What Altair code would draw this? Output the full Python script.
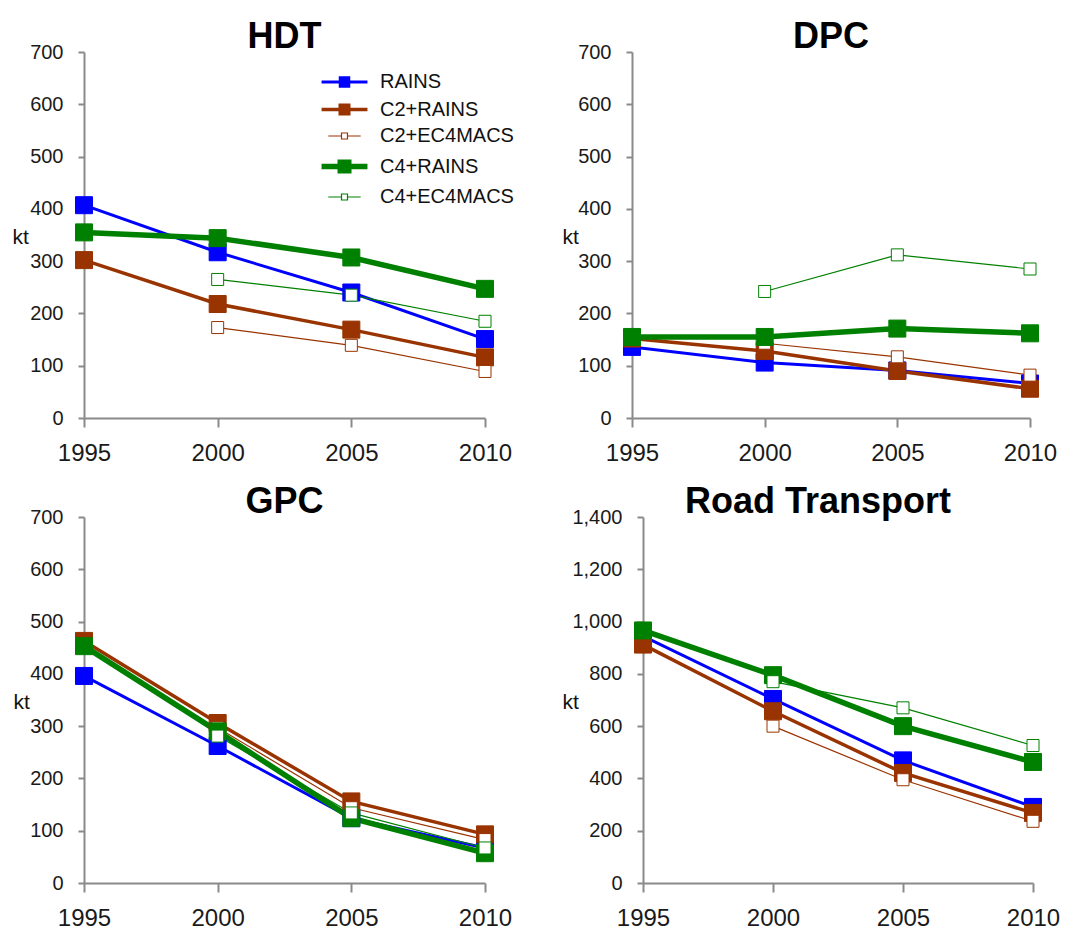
import altair as alt
import pandas as pd

years = [1995, 2000, 2005, 2010]
series = ["RAINS", "C2+RAINS", "C2+EC4MACS", "C4+RAINS", "C4+EC4MACS"]

# HDT
hdt_rains = [407, 317, 240, 151]
hdt_c2_rains = [302, 218, 169, 116]
hdt_c2_ec4 = [None, 173, 139, 89]
hdt_c4_rains = [355, 344, 307, 247]
hdt_c4_ec4 = [None, 265, 235, 185]

# DPC
dpc_rains = [136, 106, 91, 66]
dpc_c2_rains = [152, 128, 90, 56]
dpc_c2_ec4 = [None, 143, 117, 82]
dpc_c4_rains = [155, 155, 171, 162]
dpc_c4_ec4 = [None, 242, 312, 285]

# GPC
gpc_rains = [396, 262, 124, 67]
gpc_c2_rains = [463, 306, 156, 93]
gpc_c2_ec4 = [None, 297, 144, 83]
gpc_c4_rains = [453, 290, 124, 57]
gpc_c4_ec4 = [None, 281, 134, 67]

# Road Transport
road_rains = [944, 704, 469, 291]
road_c2_rains = [912, 657, 421, 268]
road_c2_ec4 = [None, 600, 395, 236]
road_c4_rains = [966, 795, 600, 463]
road_c4_ec4 = [None, 770, 670, 526]

panel_data = {
    "HDT": [hdt_rains, hdt_c2_rains, hdt_c2_ec4, hdt_c4_rains, hdt_c4_ec4],
    "DPC": [dpc_rains, dpc_c2_rains, dpc_c2_ec4, dpc_c4_rains, dpc_c4_ec4],
    "GPC": [gpc_rains, gpc_c2_rains, gpc_c2_ec4, gpc_c4_rains, gpc_c4_ec4],
    "Road Transport": [road_rains, road_c2_rains, road_c2_ec4, road_c4_rains, road_c4_ec4],
}

rows = []
for pname, lists in panel_data.items():
    for s, vals in zip(series, lists):
        for yr, v in zip(years, vals):
            if v is not None:
                rows.append({"panel": pname, "series": s, "year": yr, "value": v})
df = pd.DataFrame(rows)

line_colors = ["#0000FF", "#993300", "#993300", "#008000", "#008000"]
fill_colors = ["#0000FF", "#993300", "#FFFFFF", "#008000", "#FFFFFF"]
line_widths = [3, 3.5, 1.2, 5.5, 1.2]
marker_sizes = [289, 289, 144, 289, 144]

FONT = "Liberation Sans"
legend_path = "M-2.7,0H-0.5M0.5,0H2.7M-0.5,-0.5H0.5V0.5H-0.5Z"
leg = alt.Legend(
    title=None, orient="none", legendX=249, legendY=20,
    symbolType=legend_path, symbolSize=676, labelFontSize=20,
    labelFont=FONT, labelColor="#111111", labelOffset=24, rowPadding=5,
    padding=0, labelLimit=400,
)

color_enc = alt.Color("series:O", sort=series,
                      scale=alt.Scale(type="ordinal", domain=series, range=line_colors), legend=leg)
fill_enc = alt.Fill("series:O", sort=series,
                    scale=alt.Scale(type="ordinal", domain=series, range=fill_colors), legend=leg)
sw_enc = alt.StrokeWidth("series:O", sort=series,
                         scale=alt.Scale(type="ordinal", domain=series, range=line_widths), legend=leg)
size_enc = alt.Size("series:O", sort=series,
                    scale=alt.Scale(type="ordinal", domain=series, range=marker_sizes), legend=None)


def panel(name, ymax, ystep, width, title_dx, kt_x, yfmt):
    base = alt.Chart(df).transform_filter(alt.datum.panel == name)
    x = alt.X("year:Q", scale=alt.Scale(domain=[1995, 2010], nice=False, zero=False),
              axis=alt.Axis(values=years, format="d", title=None, grid=False,
                            tickSize=9, labelPadding=14, labelFontSize=24,
                            labelColor="#1a1a1a", labelFlush=False))
    y = alt.Y("value:Q", scale=alt.Scale(domain=[0, ymax], nice=False),
              axis=alt.Axis(values=list(range(0, ymax + 1, ystep)), format=yfmt,
                            title="kt", titleAngle=0, titleX=kt_x, titleY=191,
                            titleAlign="left", titleBaseline="alphabetic",
                            titleFontSize=21, titleFontWeight="normal",
                            titleColor="#111111", grid=False, tickSize=6,
                            labelPadding=15, labelFontSize=20, labelColor="#1a1a1a"))
    lines = base.mark_line().encode(x=x, y=y, color=color_enc, strokeWidth=sw_enc)
    pts = base.mark_point(shape="square", filled=False, strokeWidth=1, opacity=1).encode(
        x=x, y=y, color=color_enc, fill=fill_enc, size=size_enc)
    return alt.layer(lines, pts).properties(
        width=width, height=366,
        title=alt.TitleParams(name, dx=title_dx),
    )


hdt = panel("HDT", 700, 100, 401, 0, -72, "d")
dpc = panel("DPC", 700, 100, 398, 0, -70, "d")
gpc = panel("GPC", 700, 100, 401, 0, -71, "d")
road = panel("Road Transport", 1400, 200, 390, -20, -81, ",d")

chart = alt.vconcat(
    alt.hconcat(hdt, dpc, spacing=50),
    alt.hconcat(gpc, road, spacing=50),
    spacing=19,
).properties(
    padding={"left": 4, "top": 11, "right": 0, "bottom": 0},
    background="white",
).configure_view(stroke=None).configure_axis(
    labelFont=FONT, titleFont=FONT, domainColor="#8a8a8a", domainWidth=2,
    tickColor="#8a8a8a", tickWidth=2,
).configure_title(
    font=FONT, fontSize=36, fontWeight="bold", color="#000000",
    anchor="middle", baseline="alphabetic", offset=-14,
)

chart.save("out.html", embed_options={"renderer": "svg", "actions": False})
